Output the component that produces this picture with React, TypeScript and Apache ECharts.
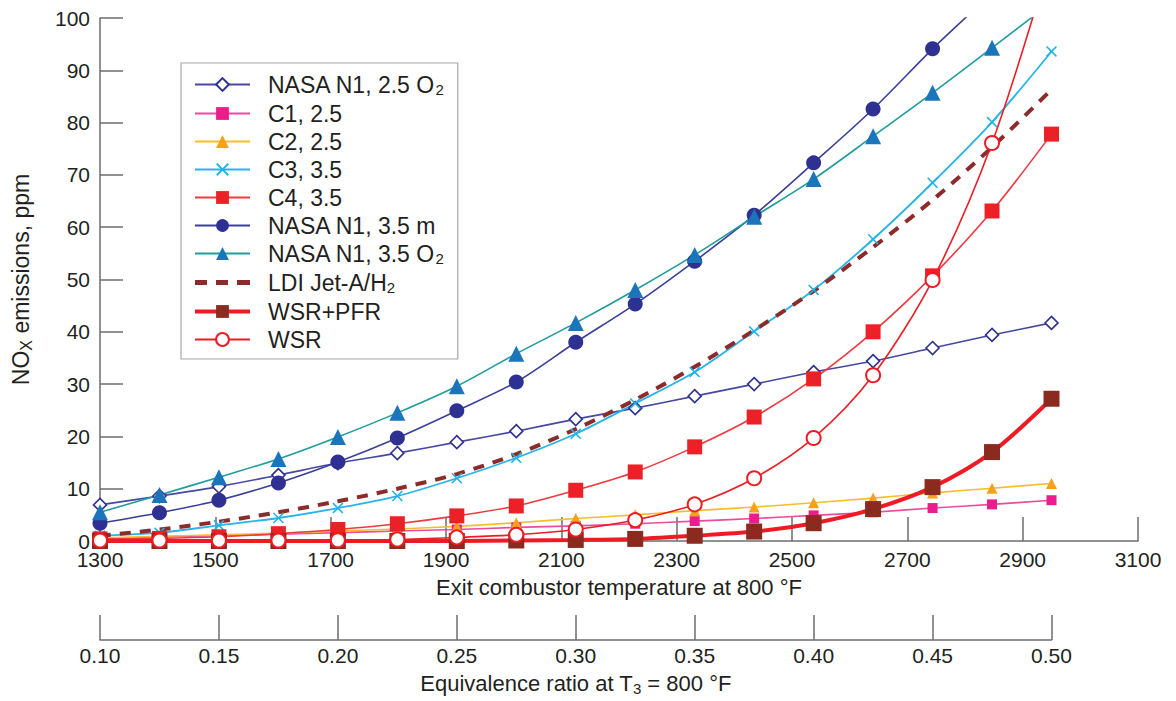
import React, { useEffect, useRef } from "react";
import * as echarts from "echarts";

// Equivalence ratio of each measured point
const PHI = [0.1, 0.125, 0.15, 0.175, 0.2, 0.225, 0.25, 0.275, 0.3, 0.325, 0.35, 0.375, 0.4, 0.425, 0.45, 0.475, 0.5];

// NOx (ppm) per series
const N1_25_O2 = [6.9, 8.6, 10.4, 12.6, 14.9, 16.8, 18.9, 21.0, 23.3, 25.4, 27.7, 30.0, 32.3, 34.4, 36.9, 39.4, 41.7];
const C1 = [0.5, 0.8, 1.0, 1.3, 1.6, 1.9, 2.2, 2.6, 2.9, 3.3, 3.8, 4.3, 4.9, 5.5, 6.3, 7.0, 7.8];
const C2 = [0.6, 0.9, 1.2, 1.5, 1.9, 2.3, 2.8, 3.5, 4.3, 5.0, 5.8, 6.5, 7.3, 8.2, 9.2, 10.1, 11.0];
const C3 = [1.0, 1.6, 3.0, 4.4, 6.3, 8.6, 12.0, 15.9, 20.5, 26.3, 32.3, 40.1, 48.0, 57.7, 68.5, 80.1, 93.6];
const C4 = [0.4, 0.5, 0.8, 1.4, 2.2, 3.3, 4.8, 6.7, 9.7, 13.2, 18.0, 23.7, 31.0, 40.0, 50.7, 63.1, 77.8];
const N1_35_M = [3.4, 5.4, 7.8, 11.1, 15.1, 19.7, 24.9, 30.4, 38.0, 45.3, 53.5, 62.3, 72.3, 82.6, 94.1, 105, 118];
const N1_35_O2 = [5.5, 8.8, 12.2, 15.7, 19.9, 24.5, 29.6, 35.8, 41.7, 48.0, 54.7, 62.0, 69.2, 77.4, 85.7, 94.3, 103];
const LDI = [1.0, 2.2, 3.7, 5.5, 7.6, 10.0, 12.8, 16.6, 21.4, 27.0, 33.3, 40.3, 47.8, 56.2, 65.2, 75.3, 86.3];
const WSR_PFR = [0, 0, 0, 0, 0, 0, 0, 0.1, 0.2, 0.4, 1.0, 1.8, 3.4, 6.1, 10.3, 17.0, 27.2];
const WSR = [0.1, 0.1, 0.1, 0.1, 0.15, 0.3, 0.7, 1.2, 2.2, 4.0, 7.0, 12.0, 19.7, 31.7, 49.9, 76.1, 112];

// Axes
const TEMP_MIN = 1300;
const TEMP_MAX = 3100;
const TEMP_STEP = 200;
const PHI_MIN = 0.1;
const PHI_MAX = 0.5;
const PHI_STEP = 0.05;
const NOX_MIN = 0;
const NOX_MAX = 100;
const NOX_STEP = 10;

const NAMES = [
  "NASA N1, 2.5 O2",
  "C1, 2.5",
  "C2, 2.5",
  "C3, 3.5",
  "C4, 3.5",
  "NASA N1, 3.5 m",
  "NASA N1, 3.5 O2",
  "LDI Jet-A/H2",
  "WSR+PFR",
  "WSR",
];

const LEGEND_LABELS: Record<string, string> = {
  "NASA N1, 2.5 O2": "{a|NASA N1, 2.5 O}{s|2}",
  "C1, 2.5": "{a|C1, 2.5}",
  "C2, 2.5": "{a|C2, 2.5}",
  "C3, 3.5": "{a|C3, 3.5}",
  "C4, 3.5": "{a|C4, 3.5}",
  "NASA N1, 3.5 m": "{a|NASA N1, 3.5 m}",
  "NASA N1, 3.5 O2": "{a|NASA N1, 3.5 O}{s|2}",
  "LDI Jet-A/H2": "{a|LDI Jet-A/H}{s|2}",
  "WSR+PFR": "{a|WSR+PFR}",
  "WSR": "{a|WSR}",
};

const X_SYMBOL = "path://M0,1 L1,0 L5,4 L9,0 L10,1 L6,5 L10,9 L9,10 L5,6 L1,10 L0,9 L4,5 Z";
const DASH_ICON = "path://M0,0h12v5h-12z M21,0h12v5h-12z M42,0h13v5h-13z";

const FONT = "'Liberation Sans', Arial, Helvetica, sans-serif";
const TEXT = "#231f20";
const AXIS = "#6d6d6d";

export default function App() {
  const ref = useRef<HTMLDivElement>(null);

  useEffect(() => {
    document.body.style.margin = "0";
    const chart = echarts.init(ref.current!, null, { renderer: "svg" });

    const W = 1176;
    const H = 701;
    const gLeft = 100;
    const gRightX = 1138;
    const gTop = 18;
    const gBottomY = 541;
    const phiRightX = 1051.5;
    const phiAxisY = 640;
    const phiMainMax = PHI_MIN + (PHI_MAX - PHI_MIN) * (gRightX - gLeft) / (phiRightX - gLeft);

    const pts = (vals: number[]) => PHI.map((p, i) => [p, vals[i]]);

    const base = (name: string, vals: number[], extra: any) => ({
      name,
      type: "line",
      xAxisIndex: 1,
      yAxisIndex: 0,
      data: pts(vals),
      smooth: 0.3,
      clip: true,
      ...extra,
    });

    const sub = { fontSize: 15, lineHeight: 8, verticalAlign: "bottom", fontFamily: FONT, color: TEXT };

    const series = [
      base(NAMES[0], N1_25_O2, {
        symbol: "diamond",
        symbolSize: 13,
        lineStyle: { color: "#4648a3", width: 1.6 },
        itemStyle: { color: "#ffffff", borderColor: "#2e3192", borderWidth: 1.6 },
      }),
      base(NAMES[1], C1, {
        symbol: "rect",
        symbolSize: 10,
        lineStyle: { color: "#ec4c9c", width: 1.6 },
        itemStyle: { color: "#ec1c8c" },
      }),
      base(NAMES[2], C2, {
        symbol: "triangle",
        symbolSize: 11,
        lineStyle: { color: "#fbbc2a", width: 1.6 },
        itemStyle: { color: "#f7a01d" },
      }),
      base(NAMES[3], C3, {
        symbol: X_SYMBOL,
        symbolSize: 11,
        lineStyle: { color: "#27b4e8", width: 1.8 },
        itemStyle: { color: "#1cb3e9" },
      }),
      base(NAMES[4], C4, {
        symbol: "rect",
        symbolSize: 15,
        lineStyle: { color: "#ee3a3f", width: 1.6 },
        itemStyle: { color: "#ec2027" },
      }),
      base(NAMES[5], N1_35_M, {
        symbol: "circle",
        symbolSize: 15,
        lineStyle: { color: "#3a3f9a", width: 1.6 },
        itemStyle: { color: "#2e3192" },
      }),
      base(NAMES[6], N1_35_O2, {
        symbol: "triangle",
        symbolSize: 16,
        lineStyle: { color: "#1f9c9c", width: 1.6 },
        itemStyle: { color: "#1b75bb" },
      }),
      base(NAMES[7], LDI, {
        symbol: "none",
        color: "#8b2b2b",
        lineStyle: { color: "#8b2b2b", width: 4, type: [11, 9] },
        itemStyle: { color: "#8b2b2b" },
      }),
      base(NAMES[8], WSR_PFR, {
        symbol: "rect",
        symbolSize: 16,
        lineStyle: { color: "#ed1c24", width: 4 },
        itemStyle: { color: "#8b2a1f" },
      }),
      base(NAMES[9], WSR, {
        symbol: "circle",
        symbolSize: 14,
        lineStyle: { color: "#ed1c24", width: 1.6 },
        itemStyle: { color: "#ffffff", borderColor: "#ed1c24", borderWidth: 2 },
      }),
    ];

    const axisLine = { show: true, onZero: false, lineStyle: { color: AXIS, width: 1.5 } };
    const labelStyle = { fontSize: 21, color: TEXT, fontFamily: FONT };
    const nameRich = {
      n: { fontSize: 22, lineHeight: 25, fontFamily: FONT, color: TEXT },
      s: sub,
    };

    const legendData = NAMES.map((n) => {
      if (n === "LDI Jet-A/H2") return { name: n, icon: DASH_ICON };
      if (n === "WSR+PFR") return { name: n, lineStyle: { color: "#ed1c24", width: 4 } };
      return { name: n };
    });

    const option: any = {
      animation: false,
      backgroundColor: "#ffffff",
      textStyle: { fontFamily: FONT, color: TEXT },
      grid: [
        { left: gLeft, right: W - gRightX, top: gTop, bottom: H - gBottomY, containLabel: false },
        { left: gLeft, right: W - phiRightX, top: phiAxisY - 40, bottom: H - phiAxisY, containLabel: false },
      ],
      xAxis: [
        {
          type: "value",
          gridIndex: 0,
          position: "bottom",
          min: TEMP_MIN,
          max: TEMP_MAX,
          interval: TEMP_STEP,
          axisLine,
          axisTick: { show: true, inside: true, length: 24, lineStyle: { color: AXIS, width: 1.5 } },
          axisLabel: { ...labelStyle, margin: 8, formatter: (v: number) => String(v) },
          splitLine: { show: false },
          name: "Exit combustor temperature at 800 °F",
          nameLocation: "middle",
          nameGap: 35,
          nameTextStyle: { fontSize: 22, color: TEXT, fontFamily: FONT },
        },
        {
          type: "value",
          gridIndex: 0,
          show: false,
          min: PHI_MIN,
          max: phiMainMax,
        },
        {
          type: "value",
          gridIndex: 1,
          position: "bottom",
          min: PHI_MIN,
          max: PHI_MAX,
          interval: PHI_STEP,
          axisLine,
          axisTick: { show: true, inside: true, length: 25, lineStyle: { color: AXIS, width: 1.5 } },
          axisLabel: { ...labelStyle, margin: 5, formatter: (v: number) => v.toFixed(2) },
          splitLine: { show: false },
          name: "{n|Equivalence ratio at T}{s|3}{n| = 800 °F}",
          nameLocation: "middle",
          nameGap: 31,
          nameTextStyle: { fontSize: 22, color: TEXT, fontFamily: FONT, rich: nameRich },
        },
      ],
      yAxis: [
        {
          type: "value",
          gridIndex: 0,
          min: NOX_MIN,
          max: NOX_MAX,
          interval: NOX_STEP,
          axisLine,
          axisTick: { show: true, inside: true, length: 23, lineStyle: { color: AXIS, width: 1.5 } },
          axisLabel: { ...labelStyle, margin: 10, lineHeight: 21, padding: [0, 0, 7, 0] },
          splitLine: { show: false },
          name: "{n|NO}{s|X}{n| emissions, ppm}",
          nameLocation: "middle",
          nameRotate: 90,
          nameGap: 66,
          nameTextStyle: {
            fontSize: 23,
            color: TEXT,
            fontFamily: FONT,
            rich: {
              n: { fontSize: 23, lineHeight: 26, fontFamily: FONT, color: TEXT },
              s: { ...sub, fontSize: 16 },
            },
          },
        },
        { type: "value", gridIndex: 1, show: false, min: 0, max: 1 },
      ],
      legend: {
        orient: "vertical",
        left: 181,
        top: 63,
        padding: [10, 14, 8, 12],
        itemGap: 5,
        itemWidth: 55,
        itemHeight: 16,
        borderColor: "#a8a8a8",
        borderWidth: 1.2,
        backgroundColor: "#ffffff",
        selectedMode: false,
        formatter: (n: string) => LEGEND_LABELS[n] || n,
        textStyle: {
          fontSize: 23,
          color: TEXT,
          fontFamily: FONT,
          rich: {
            a: { fontSize: 23, lineHeight: 25, padding: [0, 0, 0, 13], fontFamily: FONT, color: TEXT },
            s: sub,
          },
        },
        data: legendData,
      },
      series,
    };

    chart.setOption(option);
    return () => chart.dispose();
  }, []);

  return <div ref={ref} style={{ width: 1176, height: 701 }} />;
}
